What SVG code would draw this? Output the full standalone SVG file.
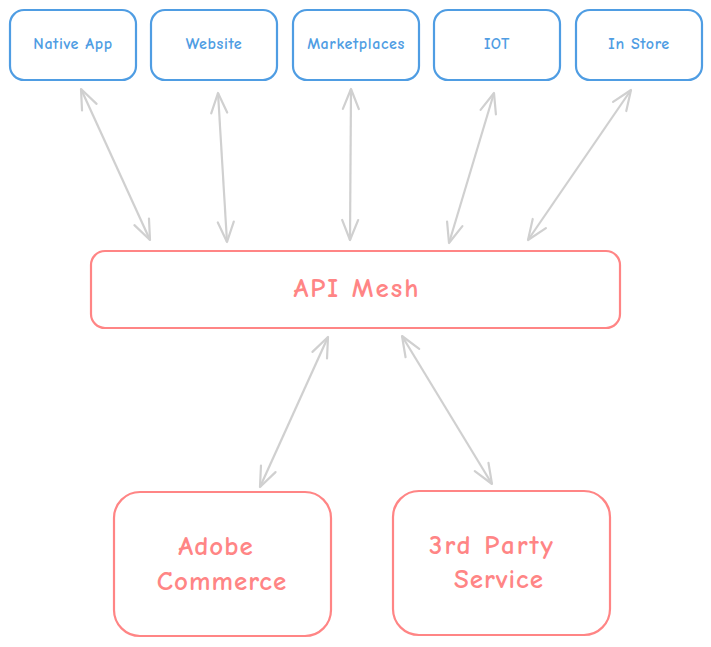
<svg xmlns="http://www.w3.org/2000/svg" width="711" height="647" viewBox="0 0 711 647">
<style>
.top rect{fill:#fff;stroke:#4f9de3;stroke-width:2.2}
.top text{fill:#4f9de3;font-family:"Comic Neue","Liberation Sans",sans-serif;font-size:16px;font-weight:bold;letter-spacing:0.6px;text-anchor:middle;dominant-baseline:middle}
.red rect{fill:#fff;stroke:#ff8585;stroke-width:2.2}
.red text{fill:#ff8585;font-family:"Comic Neue","Liberation Sans",sans-serif;font-size:27px;font-weight:bold;letter-spacing:1px;text-anchor:middle;dominant-baseline:middle}
.red text.wide{letter-spacing:2px}
.conn line{stroke:#d0d0d0;stroke-width:2.2;fill:none;marker-start:url(#ah);marker-end:url(#ah)}
</style>
<defs>
<marker id="ah" viewBox="-22 -10 24 20" refX="0" refY="0" markerWidth="24" markerHeight="20" markerUnits="userSpaceOnUse" orient="auto-start-reverse">
<path d="M-20,-8 L0,0 L-20,8" fill="none" stroke="#d0d0d0" stroke-width="2.2" stroke-linecap="round" stroke-linejoin="round"/>
</marker>
</defs>
<g id="native-app" class="top"><rect x="10" y="10" width="126" height="70" rx="14"/><text x="73" y="45">Native App</text></g>
<g id="website" class="top"><rect x="151" y="10" width="126" height="70" rx="14"/><text x="214" y="45">Website</text></g>
<g id="marketplaces" class="top"><rect x="293" y="10" width="126" height="70" rx="14"/><text x="356" y="45">Marketplaces</text></g>
<g id="iot" class="top"><rect x="434" y="10" width="126" height="70" rx="14"/><text x="497" y="45">IOT</text></g>
<g id="in-store" class="top"><rect x="576" y="10" width="126" height="70" rx="14"/><text x="639" y="45">In Store</text></g>
<g id="api-mesh" class="red"><rect x="91" y="251" width="529" height="77" rx="14"/><text class="wide" x="357" y="290">API Mesh</text></g>
<g id="adobe-commerce" class="red"><rect x="114" y="492" width="217" height="144" rx="26"/><text x="216" y="548">Adobe</text><text x="222" y="583">Commerce</text></g>
<g id="third-party" class="red"><rect x="393" y="491" width="217" height="144" rx="26"/><text class="wide" x="492" y="547">3rd Party</text><text x="499" y="581">Service</text></g>
<g id="connectors" class="conn">
<line x1="81" y1="89" x2="150" y2="240"/>
<line x1="218" y1="93" x2="227" y2="242"/>
<line x1="351" y1="89" x2="350" y2="240"/>
<line x1="494" y1="93" x2="449" y2="243"/>
<line x1="631" y1="90" x2="528" y2="240"/>
<line x1="328" y1="337" x2="260" y2="487"/>
<line x1="402" y1="336" x2="492" y2="484"/>
</g>
</svg>
